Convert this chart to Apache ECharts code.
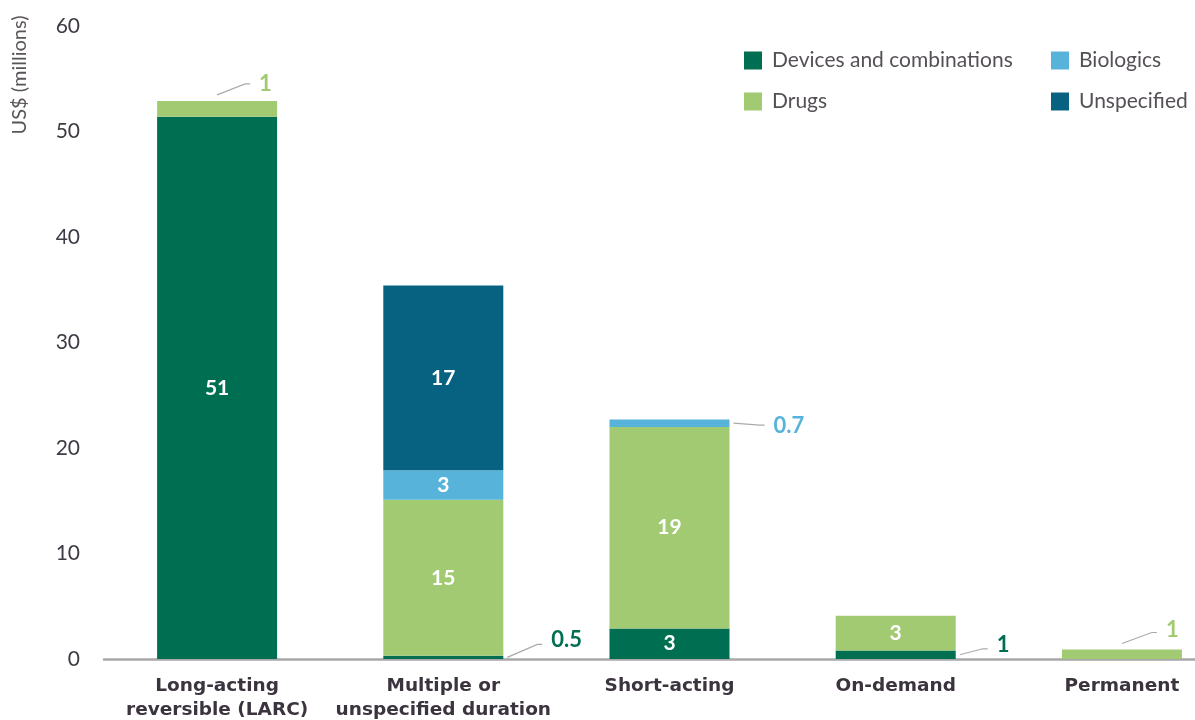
<!DOCTYPE html>
<html>
<head>
<meta charset="utf-8">
<script src="https://cdn.jsdelivr.net/npm/echarts@6/dist/echarts.min.js"></script>
<style>
html,body{margin:0;padding:0;background:#fff;}
#chart{width:1195px;height:720px;}
</style>
</head>
<body>
<div id="chart"></div>
<script>
// ---- data ----
const categories = ['Long-acting\nreversible (LARC)', 'Multiple or\nunspecified duration', 'Short-acting', 'On-demand', 'Permanent'];
const seriesNames = ['Devices and combinations', 'Drugs', 'Biologics', 'Unspecified'];
const devices = [51.4, 0.3, 2.9, 0.8, 0];
const drugs = [1.5, 14.8, 19.1, 3.3, 0.9];
const biologics = [0, 2.8, 0.7, 0, 0];
const unspecified = [0, 17.5, 0, 0, 0];
const devicesLabels = ['51', '0.5', '3', '1', ''];
const drugsLabels = ['1', '15', '19', '3', '1'];
const biologicsLabels = ['', '3', '0.7', '', ''];
const unspecifiedLabels = ['', '17', '', '', ''];
const yMin = 0, yMax = 60, yStep = 10;
const yAxisTitle = 'US$ (millions)';

// ---- styles ----
const colors = ['#006F51', '#A2CA73', '#58B3DA', '#076282'];
const FONT = 'Lato, "Open Sans", sans-serif';
const BOLDFONT = '"DejaVu Sans", Lato, sans-serif';
const BAR_W = 120;
// labels drawn outside their bar segment with a leader line (series index, category index, leader shape)
const callouts = [
  {s: 1, c: 0, from: 'top', dx: 28, dy: -11, ldy: 0},
  {s: 0, c: 1, from: 'side', dx: 30, dy: -13, ldy: -5},
  {s: 2, c: 2, from: 'side', dx: 26, dy: 2, ldy: 1},
  {s: 0, c: 3, from: 'side', dx: 23, dy: -6, ldy: -4},
  {s: 1, c: 4, from: 'top', dx: 30, dy: -11, ldy: -3}
];

const valueSets = [devices, drugs, biologics, unspecified];
const labelSets = [devicesLabels, drugsLabels, biologicsLabels, unspecifiedLabels];
const isCallout = (s, i) => callouts.some(o => o.s === s && o.c === i);

const series = valueSets.map((vals, s) => ({
  name: seriesNames[s],
  type: 'bar',
  stack: 'total',
  barWidth: BAR_W,
  itemStyle: {color: colors[s]},
  label: {
    show: true,
    position: 'inside',
    color: '#fff',
    fontFamily: FONT,
    fontWeight: 'bold',
    fontSize: 21,
    formatter: p => isCallout(s, p.dataIndex) ? '' : labelSets[s][p.dataIndex]
  },
  data: vals
}));

// leader-line callouts: base/top of each segment from the stacked data
const calloutData = callouts.map((o, k) => {
  let base = 0;
  for (let j = 0; j < o.s; j++) base += valueSets[j][o.c];
  return [o.c, base, base + valueSets[o.s][o.c], k];
});

series.push({
  type: 'custom',
  name: 'callouts',
  z: 5,
  silent: true,
  data: calloutData,
  renderItem: function (params, api) {
    const o = callouts[api.value(3)];
    const pBase = api.coord([api.value(0), api.value(1)]);
    const pTop = api.coord([api.value(0), api.value(2)]);
    let start;
    if (o.from === 'top') start = [pTop[0], pTop[1] - 6];
    else start = [pTop[0] + BAR_W / 2 + 4, (pTop[1] + pBase[1]) / 2];
    const elbow = [start[0] + o.dx, start[1] + o.dy];
    const end = [elbow[0] + 5, elbow[1]];
    return {
      type: 'group',
      children: [
        {type: 'polyline', shape: {points: [start, elbow, end]},
         style: {stroke: '#aaaaaa', lineWidth: 1.2, fill: null}},
        {type: 'text', x: end[0] + 9, y: end[1] + o.ldy,
         style: {text: labelSets[o.s][o.c], fill: colors[o.s],
                 fontFamily: FONT, fontWeight: 'bold', fontSize: 22,
                 textAlign: 'left', textVerticalAlign: 'middle'}}
      ]
    };
  }
});

const legendText = {fontFamily: FONT, fontSize: 21, color: '#555055', padding: [0, 0, 0, 5], lineHeight: 21};
const chart = echarts.init(document.getElementById('chart'), null, {renderer: 'canvas'});
chart.setOption({
  animation: false,
  backgroundColor: '#ffffff',
  grid: {left: 104, width: 1131, top: 26, bottom: 61, containLabel: false, outerBoundsMode: 'none'},
  legend: [
    {
      data: [seriesNames[0], seriesNames[1]],
      left: 744, top: 50, orient: 'vertical', padding: 0,
      icon: 'rect', itemWidth: 18, itemHeight: 18, itemGap: 20,
      selectedMode: false, textStyle: legendText
    },
    {
      data: [seriesNames[2], seriesNames[3]],
      left: 1051, top: 50, orient: 'vertical', padding: 0,
      icon: 'rect', itemWidth: 18, itemHeight: 18, itemGap: 20,
      selectedMode: false, textStyle: legendText
    }
  ],
  xAxis: {
    type: 'category',
    data: categories,
    axisTick: {show: false},
    axisLine: {lineStyle: {color: '#a8a8a8', width: 2.5}},
    axisLabel: {
      interval: 0, margin: 15,
      fontFamily: BOLDFONT, fontWeight: 'bold', fontSize: 18.5, color: '#3b343e', lineHeight: 24
    }
  },
  yAxis: {
    type: 'value',
    min: yMin, max: yMax, interval: yStep,
    splitLine: {show: false},
    axisLine: {show: false},
    axisTick: {show: false},
    axisLabel: {margin: 24, fontFamily: FONT, fontSize: 21, color: '#3f3a44'}
  },
  graphic: [{
    type: 'text',
    x: 20, y: 75,
    rotation: Math.PI / 2,
    style: {
      text: yAxisTitle,
      fontFamily: FONT, fontSize: 20, fill: '#5a555a',
      textAlign: 'center', textVerticalAlign: 'middle'
    }
  }],
  series: series
});
</script>
</body>
</html>
